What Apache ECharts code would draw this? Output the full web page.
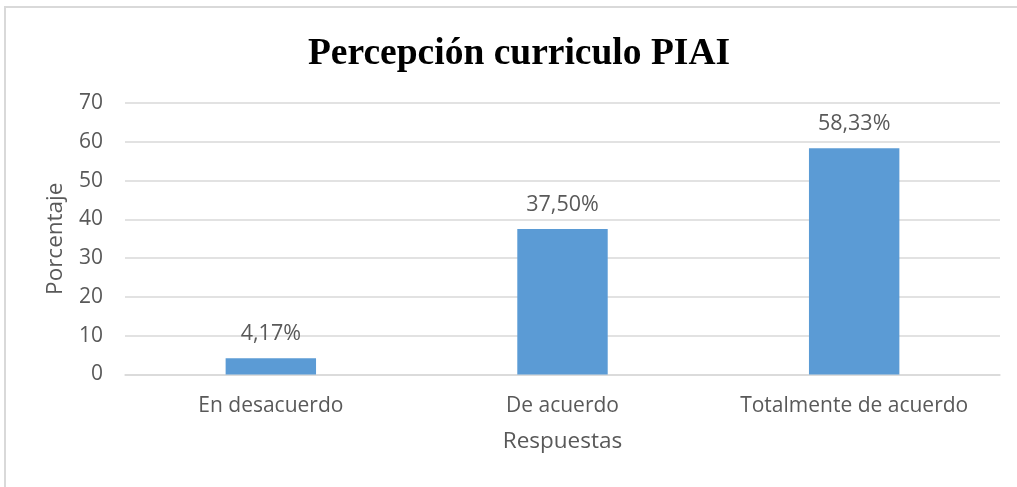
<!DOCTYPE html>
<html>
<head>
<meta charset="utf-8">
<script src="https://cdn.jsdelivr.net/npm/echarts@6/dist/echarts.min.js"></script>
<style>
html,body{margin:0;padding:0;background:#fff;}
#chart{width:1017px;height:487px;}
</style>
</head>
<body>
<div id="chart"></div>
<script>
var categories = ['En desacuerdo', 'De acuerdo', 'Totalmente de acuerdo'];
var values = [4.17, 37.50, 58.33];
var valueLabels = ['4,17%', '37,50%', '58,33%'];
var yTicks = [0, 10, 20, 30, 40, 50, 60, 70];

var chart = echarts.init(document.getElementById('chart'), null, {renderer: 'canvas'});
var txt = '#595959';
var font = 'Open Sans';
chart.setOption({
  animation: false,
  title: {
    text: 'Percepción curriculo PIAI',
    left: 514,
    top: 30,
    textAlign: 'center',
    textStyle: {fontFamily: 'Liberation Serif', fontWeight: 'bold', fontSize: 37.5, color: '#000'}
  },
  graphic: [{
    type: 'rect',
    shape: {x: 5, y: 7, width: 1100, height: 600},
    style: {fill: 'none', stroke: '#d9d9d9', lineWidth: 2},
    silent: true
  }],
  grid: {left: 125, right: 17, top: 103, bottom: 112.5, containLabel: false},
  xAxis: {
    type: 'category',
    data: categories,
    name: 'Respuestas',
    nameLocation: 'middle',
    nameGap: 56,
    nameTextStyle: {fontFamily: font, fontSize: 22.5, color: txt},
    axisLine: {show: true, lineStyle: {color: '#d9d9d9', width: 1.5}},
    axisTick: {show: false},
    axisLabel: {interval: 0, hideOverlap: false, fontFamily: font, fontSize: 21, color: txt, margin: 21}
  },
  yAxis: {
    type: 'value',
    min: yTicks[0],
    max: yTicks[yTicks.length - 1],
    interval: 10,
    name: 'Porcentaje',
    nameLocation: 'middle',
    nameGap: 58,
    nameTextStyle: {fontFamily: font, fontSize: 22.5, color: txt},
    axisLine: {show: false},
    axisTick: {show: false},
    axisLabel: {fontFamily: font, fontSize: 21, color: txt, margin: 22},
    splitLine: {lineStyle: {color: '#d9d9d9', width: 1.5}}
  },
  series: [{
    type: 'bar',
    data: values,
    barWidth: '31%',
    itemStyle: {color: '#5b9bd5'},
    label: {
      show: true,
      position: 'top',
      distance: 13,
      fontFamily: font,
      fontSize: 21.5,
      color: txt,
      formatter: function (p) { return valueLabels[p.dataIndex]; }
    }
  }]
});
</script>
</body>
</html>
